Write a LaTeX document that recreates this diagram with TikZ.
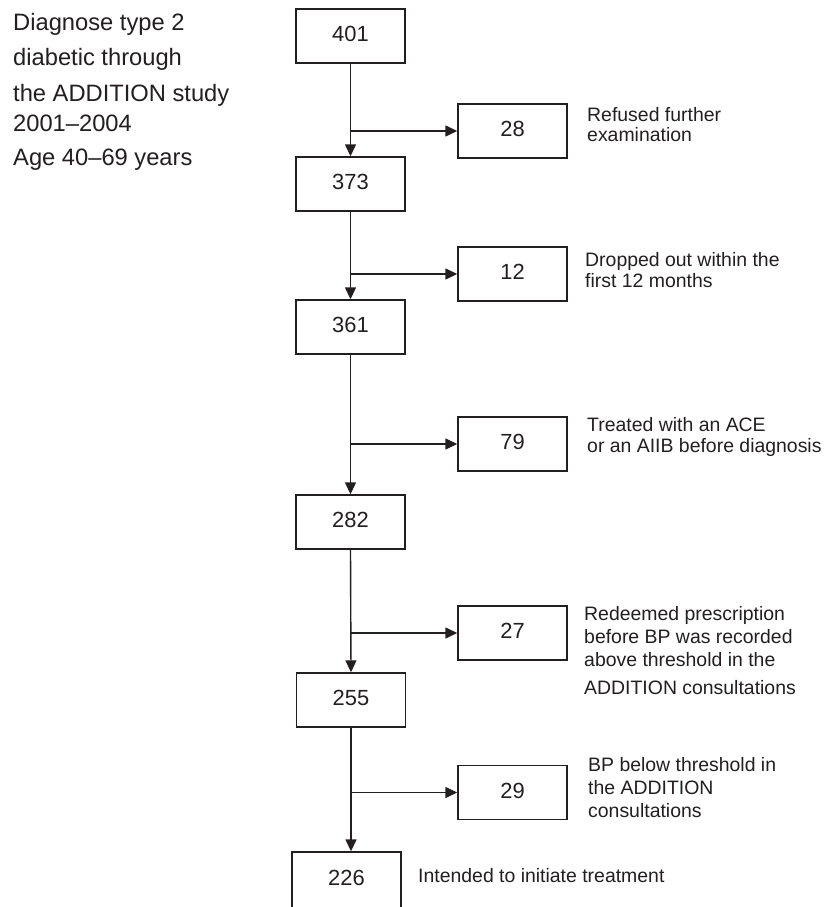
\documentclass[tikz,border=0pt]{standalone}
\usepackage{fontspec}
\setmainfont{Liberation Sans}
\usetikzlibrary{arrows.meta}
\definecolor{ink}{HTML}{231F20}
\begin{document}
\begin{tikzpicture}[x=1bp,y=-1bp,
  box/.style={draw=ink, line width=1.4bp, minimum width=109bp, minimum height=54bp,
    inner sep=0pt, text depth=4bp, font=\fontsize{22}{26}\selectfont, text=ink},
  flow/.style={draw=ink, line width=1.4bp, -{Triangle[length=12bp,width=11bp]}},
  lefttxt/.style={anchor=base west, inner sep=0pt, font=\fontsize{23.8}{28}\selectfont, text=ink},
  sidetxt/.style={anchor=base west, inner sep=0pt, font=\fontsize{19.5}{23}\selectfont, text=ink}]
\useasboundingbox[fill=white] (0,0) rectangle (829,907);

% left description
\node[lefttxt] (l1) at (13,30.7) {Diagnose type 2};
\node[lefttxt] (l2) at (13,65) {diabetic through};
\node[lefttxt] (l3) at (13,101.7) {the ADDITION study};
\node[lefttxt] (l4) at (13,131) {2001--2004};
\node[lefttxt] (l5) at (13,165.7) {Age 40--69 years};

% main column
\node[box] (b401) at (350.5,36) {401};
\node[box] (b373) at (350.5,184) {373};
\node[box] (b361) at (350.5,327) {361};
\node[box] (b282) at (350.5,522) {282};
\node[box] (b255) at (351,700) {255};
\node[box, minimum height=56bp] (b226) at (346.5,880) {226};

% side boxes
\node[box] (s28) at (512.5,131) {28};
\node[box] (s12) at (512.5,274) {12};
\node[box] (s79) at (512.5,444) {79};
\node[box] (s27) at (512.5,633) {27};
\node[box] (s29) at (512.5,792.5) {29};

% vertical flow
\draw[flow] (b401.south) -- (b373.north);
\draw[flow] (b373.south) -- (b361.north);
\draw[flow] (b361.south) -- (b282.north);
\draw[flow] (b282.south) -- (b255.north);
\draw[flow] (b255.south) -- (b255.south |- b226.north);

% branches
\draw[flow] (b401.south |- s28.west) -- (s28.west);
\draw[flow] (b373.south |- s12.west) -- (s12.west);
\draw[flow] (b361.south |- s79.west) -- (s79.west);
\draw[flow] (b282.south |- s27.west) -- (s27.west);
\draw[flow] (b255.south |- s29.west) -- (s29.west);

% side texts
\node[sidetxt] (t28a) at (587,121) {Refused further};
\node[sidetxt] (t28b) at (587,141) {examination};
\node[sidetxt] (t12a) at (585,266) {Dropped out within the};
\node[sidetxt] (t12b) at (585,287) {first 12 months};
\node[sidetxt] (t79a) at (587,431) {Treated with an ACE};
\node[sidetxt] (t79b) at (587,452.7) {or an AIIB before diagnosis};
\node[sidetxt] (t27a) at (584,620) {Redeemed prescription};
\node[sidetxt] (t27b) at (584,643) {before BP was recorded};
\node[sidetxt] (t27c) at (584,666) {above threshold in the};
\node[sidetxt] (t27d) at (584,694) {ADDITION consultations};
\node[sidetxt] (t29a) at (588,771.7) {BP below threshold in};
\node[sidetxt] (t29b) at (588,794.3) {the ADDITION};
\node[sidetxt] (t29c) at (588,817.7) {consultations};
\node[sidetxt] (t226) at (418,882) {Intended to initiate treatment};
\end{tikzpicture}
\end{document}
